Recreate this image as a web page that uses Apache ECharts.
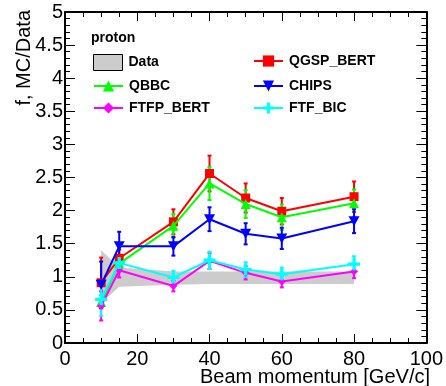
<!DOCTYPE html>
<html><head><meta charset="utf-8">
<script src="https://cdn.jsdelivr.net/npm/echarts@6/dist/echarts.min.js"></script>
<style>html,body{margin:0;padding:0;background:#fff}#c{width:446px;height:386px}</style>
</head><body><div id="c"></div>
<script>
const momenta = [10, 15, 30, 40, 50, 60, 80];
const dataLow  = [0.60, 0.85, 0.88, 0.89, 0.89, 0.89, 0.89];
const dataHigh = [1.40, 1.14, 1.08, 1.08, 1.08, 1.08, 1.08];
const qgsp     = [0.91, 1.28, 1.83, 2.56, 2.19, 1.99, 2.21];
const qgspErr  = [0.38, 0.13, 0.19, 0.27, 0.22, 0.20, 0.23];
const qbbc     = [0.62, 1.20, 1.77, 2.41, 2.10, 1.90, 2.11];
const qbbcErr  = [0.10, 0.12, 0.18, 0.25, 0.21, 0.19, 0.21];
const chips    = [0.88, 1.46, 1.46, 1.87, 1.65, 1.58, 1.84];
const chipsErr = [0.35, 0.22, 0.14, 0.18, 0.16, 0.16, 0.18];
const ftfp     = [0.56, 1.10, 0.86, 1.24, 1.06, 0.93, 1.08];
const ftfpErr  = [0.22, 0.11, 0.08, 0.12, 0.10, 0.09, 0.10];
const ftfbic   = [0.66, 1.21, 0.99, 1.25, 1.11, 1.04, 1.19];
const ftfbicErr= [0.25, 0.12, 0.10, 0.13, 0.11, 0.10, 0.12];

const FONT = 'Liberation Sans, Arial, sans-serif';
const models = [
  {name:'QGSP_BERT', y:qgsp, e:qgspErr, color:'#ff0000', symbol:'rect', size:9},
  {name:'QBBC', y:qbbc, e:qbbcErr, color:'#00ff00', symbol:'triangle', size:10},
  {name:'CHIPS', y:chips, e:chipsErr, color:'#0000ff', symbol:'path://M0,0 L10,0 L5,9 Z', size:[11,10]},
  {name:'FTFP_BERT', y:ftfp, e:ftfpErr, color:'#ff00ff', symbol:'diamond', size:8},
  {name:'FTF_BIC', y:ftfbic, e:ftfbicErr, color:'#00ffff', symbol:'path://M4,0 h3 v4 h4 v3 h-4 v4 h-3 v-4 h-4 v-3 h4 z', size:12}
];

const series = [];
series.push({
  type:'custom', name:'Data', z:1,
  data: momenta.map((m,i)=>[m, dataLow[i], dataHigh[i]]),
  renderItem: function(params, api){
    if (params.dataIndex !== 0) return null;
    const pts = [];
    for (let i=0;i<momenta.length;i++) pts.push(api.coord([momenta[i], dataHigh[i]]));
    for (let i=momenta.length-1;i>=0;i--) pts.push(api.coord([momenta[i], dataLow[i]]));
    return {type:'polygon', shape:{points:pts}, style:{fill:'#cccccc', stroke:null}};
  },
  itemStyle:{color:'#cccccc'}
});
models.forEach((md, k)=>{
  series.push({
    type:'custom', name:md.name+'_err', z:2+k,
    data: momenta.map((m,i)=>[m, md.y[i], md.e[i]]),
    renderItem: function(params, api){
      const x = api.value(0), y = api.value(1), e = api.value(2);
      const top = api.coord([x, y+e]), bot = api.coord([x, y-e]);
      const c = md.color;
      return {type:'group', children:[
        {type:'line', shape:{x1:top[0], y1:top[1], x2:bot[0], y2:bot[1]}, style:{stroke:c, lineWidth:2}},
        {type:'line', shape:{x1:top[0]-2, y1:top[1], x2:top[0]+2, y2:top[1]}, style:{stroke:c, lineWidth:2}},
        {type:'line', shape:{x1:bot[0]-2, y1:bot[1], x2:bot[0]+2, y2:bot[1]}, style:{stroke:c, lineWidth:2}}
      ]};
    }
  });
  series.push({
    type:'line', name:md.name, z:10+k,
    data: momenta.map((m,i)=>[m, md.y[i]]),
    symbol: md.symbol, symbolSize: md.size, showSymbol:true,
    lineStyle:{color:md.color, width:2},
    itemStyle:{color:md.color, borderWidth:0},
    animation:false
  });
});

const legendPos = [
  {name:'Data', left:93, top:54},
  {name:'QGSP_BERT', left:253, top:54},
  {name:'QBBC', left:93, top:79},
  {name:'CHIPS', left:253, top:79},
  {name:'FTFP_BERT', left:93, top:101},
  {name:'FTF_BIC', left:253, top:101}
];
const legends = legendPos.map(l=>{
  const item = {name:l.name};
  if (l.name === 'Data') { item.icon = 'rect'; item.itemStyle = {color:'#cccccc', borderColor:'#000', borderWidth:1}; }
  return {
    data:[item], left:l.left, top:l.top, padding:0, itemGap:0,
    itemWidth:29, itemHeight: l.name==='Data'?16:14,
    selectedMode:false,
    textStyle:{fontFamily:FONT, fontWeight:'bold', fontSize:14, color:'#000', padding:[0,0,0,1]}
  };
});

const option = {
  animation:false,
  backgroundColor:'#fff',
  grid:{left:65, right:19, top:12, bottom:43},
  title:{text:'proton', left:91, top:31, padding:0, textStyle:{fontFamily:FONT, fontWeight:'bold', fontSize:14, color:'#000'}},
  legend: legends,
  xAxis:[
    {type:'value', min:0, max:100, interval:20, position:'bottom',
     axisLine:{show:true, onZero:false, lineStyle:{color:'#000', width:2}},
     axisTick:{show:true, inside:true, length:9, lineStyle:{color:'#000'}},
     minorTick:{show:true, splitNumber:4, length:5, lineStyle:{color:'#000'}},
     axisLabel:{fontFamily:FONT, fontSize:20, color:'#000', margin:6, showMaxLabel:true},
     splitLine:{show:false}},
    {type:'value', min:0, max:100, interval:20, position:'top',
     axisLine:{show:true, onZero:false, lineStyle:{color:'#000', width:2}},
     axisTick:{show:true, inside:true, length:9, lineStyle:{color:'#000'}},
     minorTick:{show:true, splitNumber:4, length:5, lineStyle:{color:'#000'}},
     axisLabel:{show:false}, splitLine:{show:false}}
  ],
  yAxis:[
    {type:'value', min:0, max:5, interval:0.5, position:'left',
     axisLine:{show:true, onZero:false, lineStyle:{color:'#000', width:2}},
     axisTick:{show:true, inside:true, length:10, lineStyle:{color:'#000'}},
     minorTick:{show:true, splitNumber:5, length:5, lineStyle:{color:'#000'}},
     axisLabel:{fontFamily:FONT, fontSize:20, color:'#000', margin:2},
     splitLine:{show:false}},
    {type:'value', min:0, max:5, interval:0.5, position:'right',
     axisLine:{show:true, onZero:false, lineStyle:{color:'#000', width:2}},
     axisTick:{show:true, inside:true, length:10, lineStyle:{color:'#000'}},
     minorTick:{show:true, splitNumber:5, length:5, lineStyle:{color:'#000'}},
     axisLabel:{show:false}, splitLine:{show:false}}
  ],
  graphic:[
    {type:'text', right:16, top:367, style:{text:'Beam momentum [GeV/c]', font:'20px '+FONT, fill:'#000'}},
    {type:'text', x:24, y:10, rotation:Math.PI/2, style:{text:'f, MC/Data', font:'20px '+FONT, fill:'#000', align:'right', verticalAlign:'middle'}}
  ],
  series: series
};
const chart = echarts.init(document.getElementById('c'), null, {renderer:'canvas'});
chart.setOption(option);
</script></body></html>
